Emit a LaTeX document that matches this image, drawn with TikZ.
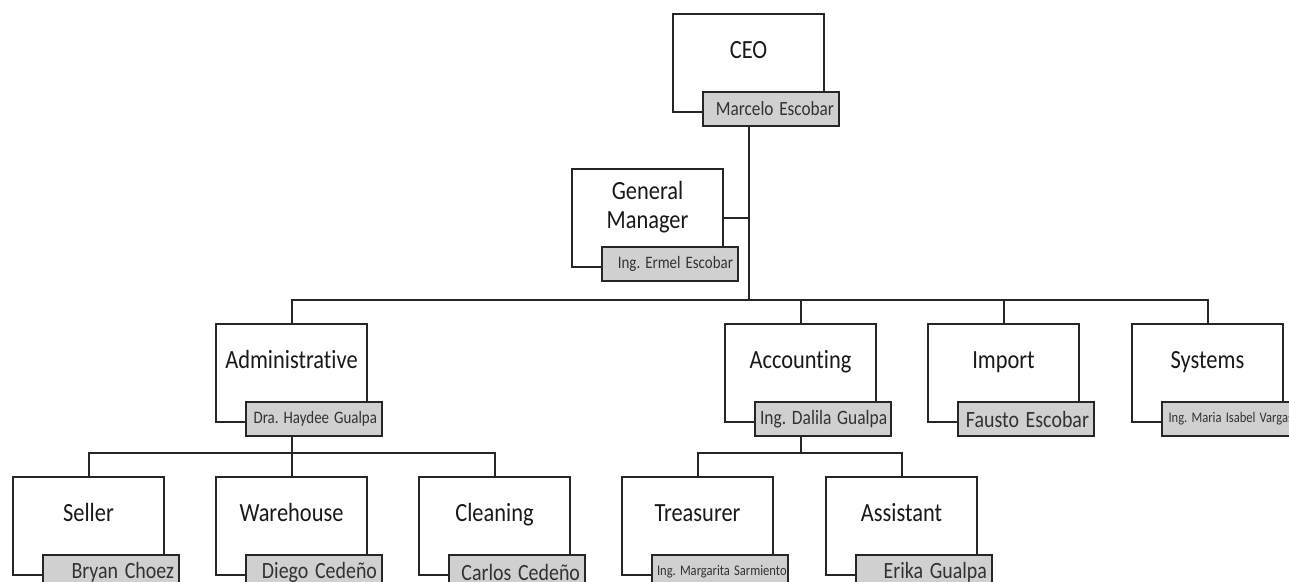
\documentclass[tikz,border=0pt]{standalone}
\usepackage{fontspec}
\setmainfont{Carlito}[Ligatures=NoCommon]
\usepackage{graphicx}
\usetikzlibrary{calc}

\definecolor{edge}{RGB}{38,38,38}
\definecolor{namefill}{RGB}{208,208,208}
\definecolor{nametext}{RGB}{50,50,50}
\definecolor{titletext}{RGB}{25,25,25}

% vertically stretched text, one or more centred lines
\newcommand\unittitle[1]{\scalebox{1}[1.17]{\begin{tabular}{@{}c@{}}#1\end{tabular}}}

% one unit of the chart: frame, grey name plate and title
% #1 id, #2 left, #3 top, #4 title, #5 person, #6 size of the person's name
\newcommand\orgunit[6]{%
  \node[unitbox, anchor=north west] (#1) at (#2,#3) {};
  \node[namebox, anchor=north west, font=\fontsize{#6}{#6}\selectfont]
    (#1n) at ([shift={(30,-22)}]#1.south west) {\scalebox{1}[1.17]{#5}};
  \node[titlenode] (#1t) at ([shift={(0,40)}]#1.north) {\unittitle{#4}};
}

\begin{document}
\frenchspacing
\begin{tikzpicture}[x=1bp, y=-1bp,
  unitbox/.style={draw=edge, line width=2bp, fill=white, inner sep=0pt,
    minimum width=151bp, minimum height=98bp},
  namebox/.style={draw=edge, line width=2bp, fill=namefill, text=nametext,
    text width=126bp, align=right, inner xsep=5bp, inner ysep=0pt,
    minimum height=34bp},
  titlenode/.style={inner sep=0pt, text=titletext,
    font=\fontsize{22.5}{25.6}\selectfont},
  link/.style={draw=edge, line width=2bp},
]
\useasboundingbox (0,0) rectangle (1289,582);
\clip (0,0) rectangle (1289,582);

% top of the chart
\orgunit{ceo}{672}{13}{CEO}{Marcelo Escobar}{17.3}
\orgunit{gm}{571}{168}{General\\Manager}{Ing. Ermel Escobar}{15}

% departments
\orgunit{adm}{215}{323}{Administrative}{Dra. Haydee Gualpa}{15}
\orgunit{acc}{724}{323}{Accounting}{Ing. Dalila Gualpa}{17.5}
\orgunit{imp}{927}{323}{Import}{Fausto Escobar}{20}
\orgunit{sys}{1131}{323}{Systems}{Ing. Maria Isabel Vargas}{12.6}

% staff
\orgunit{sel}{12}{476}{Seller}{Bryan Choez}{20}
\orgunit{war}{215}{476}{Warehouse}{Diego Cedeño}{20}
\orgunit{cle}{418}{476}{Cleaning}{Carlos Cedeño}{20}
\orgunit{tre}{621}{476}{Treasurer}{Ing. Margarita Sarmiento}{12.6}
\orgunit{ass}{825}{476}{Assistant}{Erika Gualpa}{20}

% heights of the horizontal bars
\coordinate (mainbar) at (0,300);
\coordinate (subbar) at (0,453);

% connectors
\draw[link] (ceo.center |- ceon.south) -- (ceo.center |- mainbar);
\draw[link] (gm.east) -- (gm.east -| ceo.center);
\draw[link] (adm.north) -- (adm.center |- mainbar) -- (sys.center |- mainbar) -- (sys.north);
\draw[link] (acc.center |- mainbar) -- (acc.north);
\draw[link] (imp.center |- mainbar) -- (imp.north);

\draw[link] (adm.center |- admn.south) -- (war.north);
\draw[link] (sel.north) -- (sel.center |- subbar) -- (cle.center |- subbar) -- (cle.north);

\draw[link] (acc.center |- accn.south) -- (acc.center |- subbar);
\draw[link] (tre.north) -- (tre.center |- subbar) -- (ass.center |- subbar) -- (ass.north);
\end{tikzpicture}
\end{document}
